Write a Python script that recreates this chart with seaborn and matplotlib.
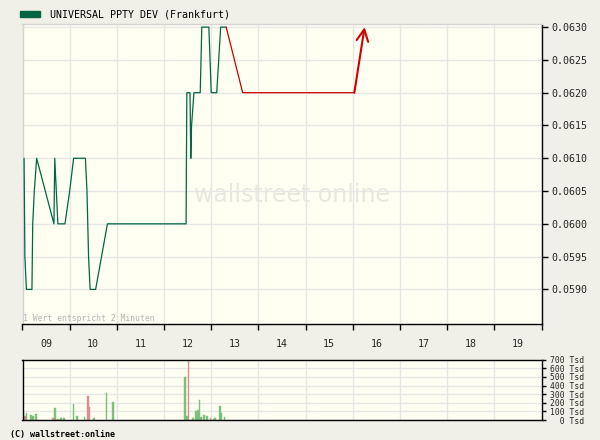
import numpy as np
import pandas as pd
import matplotlib
matplotlib.use("Agg")
import matplotlib.pyplot as plt
import seaborn as sns
from matplotlib.patches import Rectangle

TITLE = "UNIVERSAL PPTY DEV (Frankfurt)"

# price line: minutes after 09:00 and price
green_min = [2, 3, 5, 12, 13, 15, 18, 40, 41, 43, 45, 54, 60, 65, 80, 82, 83, 84,
             86, 93, 108, 208, 209, 213, 214, 215, 218, 226, 228, 237, 240, 247,
             252, 259]
green_px = [0.0610, 0.0595, 0.0590, 0.0590, 0.0600, 0.0605, 0.0610, 0.0600,
            0.0610, 0.0605, 0.0600, 0.0600, 0.0605, 0.0610, 0.0610, 0.0605,
            0.0600, 0.0595, 0.0590, 0.0590, 0.0600, 0.0600, 0.0620, 0.0620,
            0.0610, 0.0615, 0.0620, 0.0620, 0.0630, 0.0630, 0.0620, 0.0620,
            0.0630, 0.0630]
red_min = [259, 280, 422, 435]
red_px = [0.0630, 0.0620, 0.0620, 0.0630]

# volume bars (Tsd), up = green, down = red
vol_min = [1, 3, 5, 11, 13, 17, 39, 41, 45, 49, 53, 65, 69, 79, 83, 85, 91, 107,
           115, 207, 209, 211, 217, 221, 223, 225, 227, 231, 235, 239, 243, 245,
           251, 253, 257]
vol_tsd = [93, 46, 77, 58, 46, 70, 23, 139, 12, 23, 23, 186, 46, 35, 278, 151, 23,
           313, 209, 499, 46, 700, 23, 104, 116, 232, 35, 58, 46, 23, 12, 23, 162,
           81, 35]
vol_up = [1, 0, 1, 1, 1, 1, 0, 1, 0, 1, 1, 1, 1, 1, 0, 0, 1, 1,
          1, 1, 1, 0, 1, 1, 1, 1, 1, 1, 1, 0, 1, 1, 1, 1, 1]

hour_labels = ["09", "10", "11", "12", "13", "14", "15", "16", "17", "18", "19"]
price_ticks = [0.0590, 0.0595, 0.0600, 0.0605, 0.0610, 0.0615, 0.0620, 0.0625, 0.0630]
vol_ticks = [0, 100, 200, 300, 400, 500, 600, 700]

FIG_BG = "#f0f0e8"
PLOT_BG = "#fffff2"
GRID = "#e6e6e6"
GREEN = "#006644"
RED = "#cc0000"
VOL_GREEN = "#7cc07c"
VOL_RED = "#e08c8c"

sns.set_theme(style="white")
plt.rcParams["font.family"] = ["DejaVu Sans Mono"]

W, H = 600, 440
fig = plt.figure(figsize=(6, 4.4), dpi=100, facecolor=FIG_BG)

# ---- price chart
ax = fig.add_axes([22.5 / W, 1 - 323.5 / H, 519 / W, 299 / H])
ax.set_facecolor(PLOT_BG)
ax.set_axisbelow(True)

green = pd.DataFrame({"t": 9 + np.array(green_min) / 60, "p": green_px})
red = pd.DataFrame({"t": 9 + np.array(red_min) / 60, "p": red_px})
sns.lineplot(data=green, x="t", y="p", ax=ax, color=GREEN, lw=0.9,
             estimator=None, sort=False, zorder=3)
sns.lineplot(data=red.iloc[:-1], x="t", y="p", ax=ax, color=RED, lw=0.9,
             estimator=None, sort=False, zorder=3)
ax.annotate("", xy=(red.t.iloc[-1], red.p.iloc[-1]),
            xytext=(red.t.iloc[-2], red.p.iloc[-2]),
            arrowprops=dict(arrowstyle="->,head_length=0.7,head_width=0.35",
                            color=RED, lw=1.5, shrinkA=0, shrinkB=0,
                            mutation_scale=12), zorder=3)

ax.set_xlim(9, 20)
ax.set_ylim(0.05848, 0.06304)
ax.set_xlabel("")
ax.set_ylabel("")

hours = np.arange(9, 21)
ax.set_xticks(hours)
ax.set_xticklabels([])
ax.set_xticks(np.arange(9.5, 20, 1), minor=True)
ax.set_xticklabels(hour_labels, minor=True)
ax.tick_params(axis="x", which="major", direction="out", length=4, width=1,
               color="black", bottom=True)
ax.tick_params(axis="x", which="minor", length=0, pad=11, labelsize=7.2,
               bottom=True)

ax.yaxis.tick_right()
ax.set_yticks(price_ticks)
ax.set_yticklabels([f"{v:.4f}" for v in price_ticks])
ax.tick_params(axis="y", direction="out", length=4, width=1, color="black",
               labelsize=7.2, pad=3, right=True)

ax.grid(True, which="major", color=GRID, lw=1)
for s in ["left", "top"]:
    ax.spines[s].set_color("#d4d4d4")
    ax.spines[s].set_linewidth(1)
for s in ["right", "bottom"]:
    ax.spines[s].set_color("black")
    ax.spines[s].set_linewidth(1)

ax.text(0.52, 0.43, "wallstreet online", transform=ax.transAxes,
        ha="center", va="center", fontsize=17, color="#e8e8e0",
        family="DejaVu Sans", zorder=1.5)
ax.text(0.001, 0.017, "1 Wert entspricht 2 Minuten", transform=ax.transAxes,
        ha="left", va="center", fontsize=5.9, color="#b4b4b4")

# ---- volume chart
ax2 = fig.add_axes([22.5 / W, 1 - 420 / H, 519 / W, 60.3 / H])
ax2.set_facecolor(PLOT_BG)
ax2.set_axisbelow(True)
vt = 9 + np.array(vol_min) / 60
vcol = [VOL_GREEN if u else VOL_RED for u in vol_up]
ax2.bar(vt, vol_tsd, width=2.1 / 60, color=vcol, linewidth=0.3, edgecolor=vcol)
ax2.set_xlim(9, 20)
ax2.set_ylim(0, 700)
ax2.set_xticks(np.arange(10, 20))
ax2.set_xticklabels([])
ax2.tick_params(axis="x", length=0)
ax2.yaxis.tick_right()
ax2.set_yticks(vol_ticks)
ax2.set_yticklabels([f"{v:>3d} Tsd" for v in vol_ticks])
ax2.tick_params(axis="y", direction="out", length=3, width=1, color="black",
                labelsize=5.8, pad=3, right=True)
ax2.grid(True, color=GRID, lw=1)
for s in ax2.spines.values():
    s.set_color("black")
    s.set_linewidth(1)

# ---- header and footer
fig.patches.append(Rectangle((20 / W, 1 - 16.7 / H), 20 / W, 5.7 / H,
                             transform=fig.transFigure, color=GREEN))
fig.text(50 / W, 1 - 14.3 / H, TITLE, ha="left", va="center", fontsize=7.2,
         color="black")
fig.text(10 / W, 1 - 434 / H, "(C) wallstreet:online", ha="left", va="center",
         fontsize=6, color="black", weight="bold")

fig.savefig("out.png", dpi=100, facecolor=FIG_BG)
